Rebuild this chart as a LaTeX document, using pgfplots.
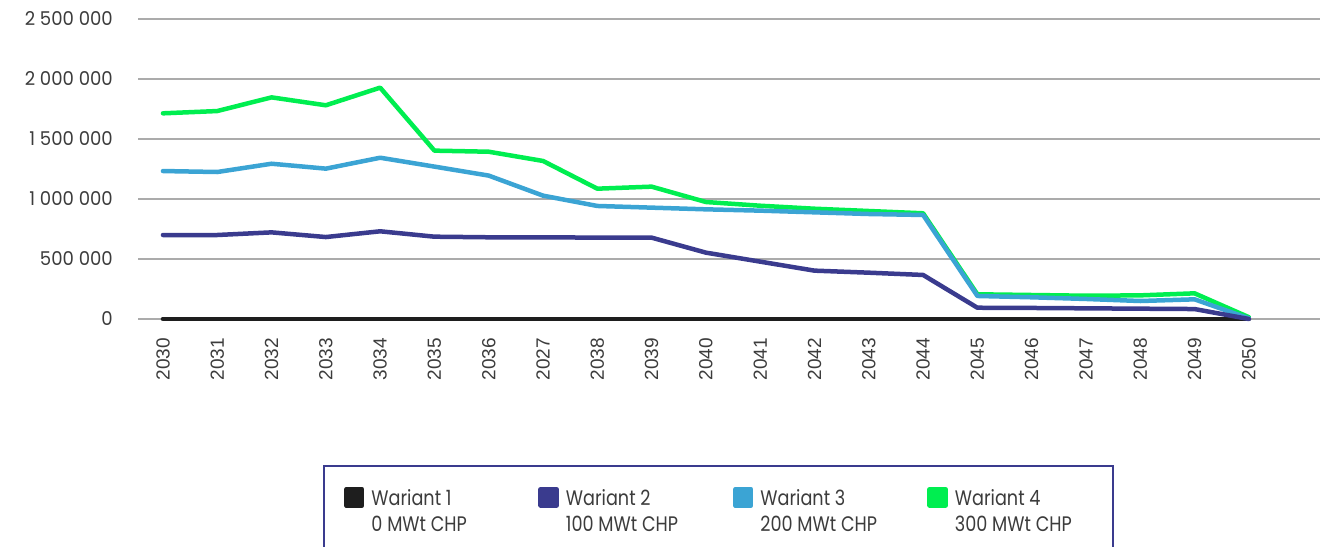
\documentclass[border=0pt]{standalone}
\usepackage{pgfplots}
\usepackage{pgfplotstable}
\pgfplotsset{compat=1.18}
\usepackage{fontspec}
\setmainfont{Poppins}
\newfontfamily\tickfont{Poppins}[FakeStretch=0.95]
\newfontfamily\legfont{Poppins}[FakeStretch=0.84]
\newfontfamily\xfont{Liberation Sans}
\definecolor{c1}{HTML}{1E1E1E}
\definecolor{c2}{HTML}{3A3B8E}
\definecolor{c3}{HTML}{3BA4D4}
\definecolor{c4}{HTML}{00EE50}
\definecolor{gridc}{HTML}{ABABAB}
\definecolor{txt}{HTML}{3C3C3C}

\pgfplotstableread{
x v1 v2 v3 v4
0  0 700000 1233000 1714000
1  0 700000 1225000 1733000
2  0 722000 1294000 1847000
3  0 683000 1253000 1781000
4  0 731000 1344000 1928000
5  0 686000 1270000 1403000
6  0 681000 1195000 1394000
7  0 681000 1028000 1317000
8  0 678000 942000 1086000
9  0 678000 928000 1103000
10 0 553000 914000 975000
11 0 478000 903000 944000
12 0 403000 889000 919000
13 0 386000 875000 900000
14 0 367000 867000 881000
15 0 94000 192000 206000
16 0 92000 181000 200000
17 0 89000 167000 194000
18 0 86000 150000 197000
19 0 83000 164000 214000
20 0 0 5000 15000
}\datatable

\begin{document}
\begin{tikzpicture}
\begin{axis}[
  at={(138pt,-319pt)}, anchor=south west,
  scale only axis, width=1182pt, height=300pt,
  xmin=-0.46, xmax=21.31, ymin=0, ymax=2500000,
  clip=false,
  axis line style={draw=none},
  major tick length=0pt,
  ymajorgrids, grid style={gridc, line width=1.2pt},
  ytick={0,500000,1000000,1500000,2000000,2500000},
  yticklabels={{0},{500 000},{1 000 000},{1 500 000},{2 000 000},{2 500 000}},
  yticklabel style={font=\tickfont\fontsize{19}{22}\selectfont, text=txt, anchor=east, inner sep=0pt},
  yticklabel shift=25pt,
  xtick={0,...,20},
  xticklabels={2030,2031,2032,2033,3034,2035,2036,2027,2038,2039,2040,2041,2042,2043,2044,2045,2046,2047,2048,2049,2050},
  xticklabel style={font=\xfont\fontsize{19}{22}\selectfont, text=txt, rotate=90, anchor=east, inner sep=0pt},
  xticklabel shift=19pt,
  scaled y ticks=false,
  legend columns=4,
  legend cell align=left,
  legend style={at={(axis description cs:0.1565,-0.4867)}, anchor=north west, draw=c2, line width=2pt, fill=white,
    inner xsep=20pt, inner ysep=21pt, column sep=7pt,
    cells={anchor=base west},
    nodes={inner sep=0pt, text depth=, font=\legfont\fontsize{21}{26}\selectfont, text=txt}},
  legend image code/.code={\fill (0pt,0pt) rectangle (16pt,16pt);},
  every axis plot/.append style={line width=4.5pt, line cap=round, line join=round, no markers},
]
\addlegendimage{color=c1}
\addlegendentry{\begin{tabular}[t]{@{}p{160pt}@{}}Wariant 1\\0 MWt CHP\end{tabular}}
\addlegendimage{color=c2}
\addlegendentry{\begin{tabular}[t]{@{}p{160pt}@{}}Wariant 2\\100 MWt CHP\end{tabular}}
\addlegendimage{color=c3}
\addlegendentry{\begin{tabular}[t]{@{}p{160pt}@{}}Wariant 3\\200 MWt CHP\end{tabular}}
\addlegendimage{color=c4}
\addlegendentry{\begin{tabular}[t]{@{}p{138pt}@{}}Wariant 4\\300 MWt CHP\end{tabular}}

\addplot[color=c1, forget plot] table[x=x, y=v1] {\datatable};
\addplot[color=c4, forget plot] table[x=x, y=v4] {\datatable};
\addplot[color=c3, forget plot] table[x=x, y=v3] {\datatable};
\addplot[color=c2, forget plot] table[x=x, y=v2] {\datatable};
\end{axis}
\pgfresetboundingbox
\useasboundingbox (0pt,0pt) rectangle (1332pt,-546pt);
\end{tikzpicture}
\end{document}
